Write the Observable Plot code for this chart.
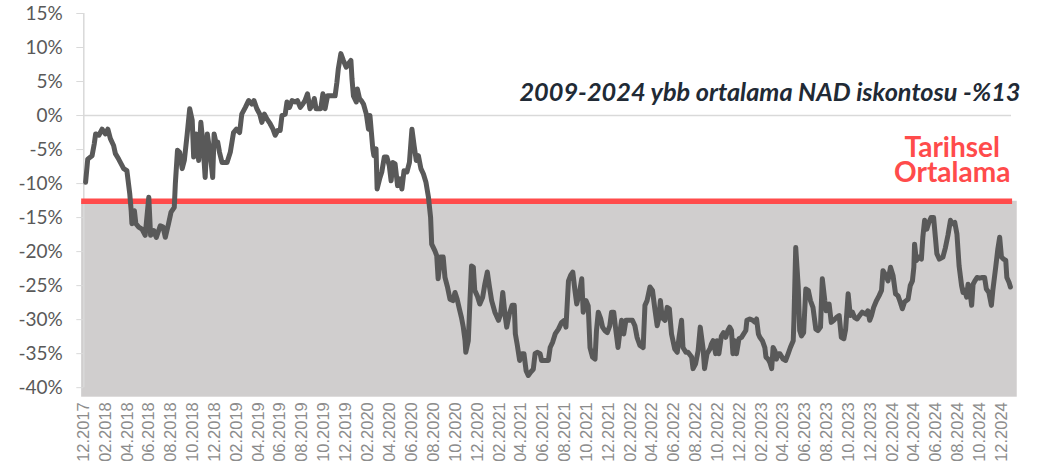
<!DOCTYPE html>
<html>
<head>
<meta charset="utf-8">
<script src="https://cdn.jsdelivr.net/npm/d3@7"></script>
<script src="https://cdn.jsdelivr.net/npm/@observablehq/plot@0.6"></script>
<style>
  html, body { margin: 0; padding: 0; background: #fff; }
  #chart svg { display: block; }
</style>
</head>
<body>
<div id="chart"></div>
<script>
// NAD iskontosu (%)
const series = [
["2017-12-06",-9.8],["2017-12-12",-6.4],["2017-12-24",-5.9],["2017-12-30",-4.2],["2018-01-03",-2.7],["2018-01-12",-2.9],
["2018-01-21",-2.0],["2018-01-30",-2.7],["2018-02-06",-2.0],["2018-02-13",-3.4],["2018-02-22",-4.4],["2018-02-27",-5.6],
["2018-03-08",-6.4],["2018-03-18",-7.4],["2018-03-22",-7.8],["2018-03-31",-8.1],["2018-04-08",-11.5],["2018-04-12",-14.0],
["2018-04-14",-15.9],["2018-04-21",-14.0],["2018-04-25",-15.9],["2018-05-03",-16.4],["2018-05-12",-16.7],["2018-05-21",-17.6],
["2018-05-31",-12.0],["2018-06-05",-17.6],["2018-06-14",-16.9],["2018-06-21",-17.9],["2018-07-02",-16.2],["2018-07-10",-16.4],
["2018-07-16",-17.9],["2018-07-25",-15.9],["2018-08-01",-14.2],["2018-08-10",-13.5],["2018-08-13",-10.0],["2018-08-19",-5.1],
["2018-08-25",-5.4],["2018-09-01",-7.8],["2018-09-07",-6.6],["2018-09-15",-2.7],["2018-09-22",1.0],["2018-09-29",-0.7],
["2018-10-03",-6.1],["2018-10-10",-2.7],["2018-10-17",-6.6],["2018-10-23",-1.0],["2018-10-29",-4.2],["2018-11-04",-9.1],
["2018-11-10",-2.7],["2018-11-18",-5.6],["2018-11-25",-9.1],["2018-11-29",-2.7],["2018-12-05",-4.2],["2018-12-09",-3.9],
["2018-12-14",-5.4],["2018-12-21",-6.9],["2019-01-04",-6.9],["2019-01-13",-5.4],["2019-01-22",-2.5],["2019-01-30",-2.0],
["2019-02-08",-2.5],["2019-02-14",0.2],["2019-02-24",1.2],["2019-03-05",2.2],["2019-03-14",1.7],["2019-03-20",2.2],
["2019-03-28",1.0],["2019-04-05",0.2],["2019-04-11",-1.0],["2019-04-18",0.2],["2019-04-25",-0.5],["2019-05-04",-1.2],
["2019-05-12",-2.0],["2019-05-18",-2.9],["2019-05-25",-2.2],["2019-06-01",-2.2],["2019-06-06",0.0],["2019-06-15",0.2],
["2019-06-20",2.0],["2019-06-27",1.2],["2019-07-04",2.2],["2019-07-13",2.0],["2019-07-19",2.2],["2019-07-27",1.2],
["2019-08-03",1.7],["2019-08-09",2.2],["2019-08-16",3.2],["2019-08-23",1.0],["2019-08-31",1.7],["2019-09-04",2.5],
["2019-09-09",1.0],["2019-09-16",1.0],["2019-09-22",1.0],["2019-09-28",3.2],["2019-10-04",1.0],["2019-10-11",2.9],
["2019-10-18",2.9],["2019-11-01",2.9],["2019-11-06",4.9],["2019-11-10",6.9],["2019-11-17",9.1],["2019-11-24",8.1],
["2019-12-02",7.1],["2019-12-08",7.6],["2019-12-15",8.1],["2019-12-18",5.4],["2019-12-22",2.9],["2019-12-30",2.0],
["2020-01-02",3.9],["2020-01-08",2.5],["2020-01-13",2.2],["2020-01-19",1.7],["2020-01-27",0.2],["2020-02-02",-2.0],
["2020-02-06",0.0],["2020-02-14",-4.9],["2020-02-17",-5.9],["2020-02-23",-4.9],["2020-02-26",-10.8],["2020-03-04",-9.3],
["2020-03-10",-8.3],["2020-03-17",-6.1],["2020-03-24",-6.1],["2020-03-31",-7.4],["2020-04-05",-9.6],["2020-04-10",-6.9],
["2020-04-16",-7.1],["2020-04-23",-10.3],["2020-04-30",-9.3],["2020-05-05",-10.8],["2020-05-11",-8.1],["2020-05-19",-8.3],
["2020-05-26",-6.9],["2020-06-02",-2.0],["2020-06-08",-4.4],["2020-06-14",-6.6],["2020-06-20",-5.9],["2020-06-27",-7.8],
["2020-07-04",-8.6],["2020-07-11",-9.8],["2020-07-18",-12.0],["2020-07-24",-15.0],["2020-07-27",-18.9],["2020-08-05",-19.9],
["2020-08-10",-20.6],["2020-08-14",-24.0],["2020-08-21",-20.8],["2020-08-28",-20.8],["2020-09-02",-23.8],["2020-09-09",-25.2],
["2020-09-16",-27.0],["2020-09-24",-27.2],["2020-09-30",-26.0],["2020-10-06",-27.0],["2020-10-12",-28.4],["2020-10-18",-29.7],
["2020-10-23",-31.1],["2020-10-28",-33.1],["2020-10-30",-34.8],["2020-11-06",-33.1],["2020-11-11",-26.7],["2020-11-15",-22.1],
["2020-11-20",-22.3],["2020-11-24",-25.7],["2020-12-01",-26.5],["2020-12-08",-27.7],["2020-12-16",-26.7],["2020-12-22",-24.8],
["2020-12-29",-23.0],["2021-01-04",-25.2],["2021-01-10",-27.2],["2021-01-19",-28.9],["2021-01-29",-30.1],["2021-02-04",-29.2],
["2021-02-10",-26.0],["2021-02-16",-29.2],["2021-02-21",-31.1],["2021-02-28",-29.2],["2021-03-08",-27.9],["2021-03-14",-27.9],
["2021-03-17",-32.1],["2021-03-22",-33.6],["2021-03-29",-36.0],["2021-04-04",-35.0],["2021-04-10",-35.0],["2021-04-16",-37.5],
["2021-04-22",-38.2],["2021-04-29",-37.7],["2021-05-06",-37.3],["2021-05-11",-35.0],["2021-05-17",-34.8],["2021-05-25",-35.0],
["2021-05-29",-36.0],["2021-06-08",-36.0],["2021-06-17",-36.0],["2021-06-22",-34.1],["2021-06-29",-33.3],["2021-07-06",-32.1],
["2021-07-15",-31.4],["2021-07-24",-30.4],["2021-07-31",-30.1],["2021-08-05",-31.1],["2021-08-12",-24.3],["2021-08-18",-23.5],
["2021-08-24",-23.0],["2021-08-30",-25.7],["2021-09-04",-27.7],["2021-09-11",-26.2],["2021-09-18",-24.0],["2021-09-22",-28.9],
["2021-09-30",-27.2],["2021-10-06",-28.0],["2021-10-11",-34.1],["2021-10-18",-35.5],["2021-10-25",-35.8],["2021-10-29",-31.6],
["2021-11-03",-28.9],["2021-11-10",-29.9],["2021-11-15",-31.1],["2021-11-21",-31.6],["2021-11-28",-31.9],["2021-12-05",-30.9],
["2021-12-10",-28.9],["2021-12-16",-28.9],["2021-12-22",-31.6],["2021-12-28",-34.1],["2022-01-02",-31.9],["2022-01-07",-30.1],
["2022-01-13",-32.1],["2022-01-19",-30.1],["2022-01-25",-30.1],["2022-02-06",-30.1],["2022-02-13",-30.9],["2022-02-19",-32.6],
["2022-02-27",-33.8],["2022-03-08",-34.1],["2022-03-13",-27.9],["2022-03-19",-27.2],["2022-03-27",-25.2],["2022-04-03",-25.7],
["2022-04-09",-28.2],["2022-04-16",-30.9],["2022-04-21",-29.7],["2022-04-25",-27.2],["2022-04-30",-29.7],["2022-05-08",-30.1],
["2022-05-14",-28.2],["2022-05-20",-28.4],["2022-05-26",-32.1],["2022-06-04",-34.3],["2022-06-11",-34.8],["2022-06-16",-32.6],
["2022-06-23",-30.1],["2022-06-27",-34.1],["2022-07-05",-34.8],["2022-07-11",-34.8],["2022-07-21",-35.5],["2022-07-25",-37.2],
["2022-08-01",-36.5],["2022-08-08",-34.6],["2022-08-14",-31.1],["2022-08-22",-34.3],["2022-08-26",-37.2],["2022-09-02",-35.0],
["2022-09-10",-34.3],["2022-09-14",-33.6],["2022-09-19",-33.1],["2022-09-26",-35.0],["2022-09-30",-33.1],["2022-10-05",-35.0],
["2022-10-12",-32.4],["2022-10-18",-31.9],["2022-10-24",-32.6],["2022-10-30",-31.6],["2022-11-04",-31.1],["2022-11-09",-31.6],
["2022-11-13",-35.0],["2022-11-18",-33.1],["2022-11-23",-35.0],["2022-11-30",-32.8],["2022-12-07",-32.6],["2022-12-13",-32.1],
["2022-12-19",-31.6],["2022-12-22",-30.1],["2022-12-30",-29.9],["2023-01-07",-30.1],["2023-01-14",-30.4],["2023-01-18",-29.9],
["2023-01-23",-32.1],["2023-01-27",-32.6],["2023-02-03",-33.1],["2023-02-10",-34.1],["2023-02-13",-35.5],["2023-02-19",-35.8],
["2023-02-24",-36.3],["2023-03-01",-37.2],["2023-03-05",-34.1],["2023-03-10",-34.6],["2023-03-14",-35.8],["2023-03-19",-35.0],
["2023-03-24",-35.0],["2023-04-02",-35.8],["2023-04-09",-36.0],["2023-04-16",-35.0],["2023-04-22",-34.1],["2023-04-30",-33.1],
["2023-05-02",-30.1],["2023-05-07",-19.4],["2023-05-14",-25.2],["2023-05-18",-31.6],["2023-05-23",-32.4],["2023-05-29",-31.9],
["2023-06-04",-25.5],["2023-06-11",-25.7],["2023-06-17",-27.2],["2023-06-24",-28.2],["2023-07-02",-31.4],["2023-07-08",-31.6],
["2023-07-15",-31.1],["2023-07-20",-24.0],["2023-07-27",-27.2],["2023-07-31",-28.7],["2023-08-08",-27.7],["2023-08-14",-30.4],
["2023-08-21",-30.1],["2023-08-28",-29.7],["2023-09-05",-29.4],["2023-09-11",-32.6],["2023-09-18",-32.8],["2023-09-23",-31.4],
["2023-09-30",-26.2],["2023-10-06",-29.4],["2023-10-12",-28.9],["2023-10-18",-29.7],["2023-10-25",-29.9],["2023-11-01",-29.4],
["2023-11-08",-28.9],["2023-11-18",-29.2],["2023-11-24",-28.7],["2023-11-29",-30.1],["2023-12-04",-29.4],["2023-12-10",-28.2],
["2023-12-18",-27.2],["2023-12-25",-26.5],["2024-01-01",-25.7],["2024-01-05",-22.8],["2024-01-13",-23.5],["2024-01-19",-24.3],
["2024-01-26",-22.3],["2024-02-02",-23.5],["2024-02-09",-26.2],["2024-02-16",-26.5],["2024-02-22",-27.4],["2024-02-28",-28.4],
["2024-03-05",-27.4],["2024-03-15",-27.0],["2024-03-21",-25.0],["2024-03-27",-24.3],["2024-03-31",-22.3],["2024-04-02",-18.9],
["2024-04-07",-21.3],["2024-04-14",-20.8],["2024-04-21",-21.1],["2024-04-25",-17.9],["2024-04-30",-15.4],["2024-05-06",-16.7],
["2024-05-12",-15.7],["2024-05-18",-15.0],["2024-05-25",-15.0],["2024-05-30",-17.9],["2024-06-03",-20.3],["2024-06-10",-21.1],
["2024-06-20",-20.8],["2024-06-27",-19.4],["2024-07-04",-17.6],["2024-07-11",-15.4],["2024-07-16",-15.9],["2024-07-23",-15.7],
["2024-07-29",-17.4],["2024-08-04",-22.1],["2024-08-11",-25.0],["2024-08-15",-26.0],["2024-08-20",-25.7],["2024-08-25",-26.7],
["2024-08-29",-24.8],["2024-09-03",-25.7],["2024-09-08",-27.9],["2024-09-12",-24.8],["2024-09-17",-24.3],["2024-09-23",-23.8],
["2024-09-30",-23.9],["2024-10-08",-23.8],["2024-10-14",-23.8],["2024-10-19",-25.5],["2024-10-26",-26.0],["2024-11-02",-27.9],
["2024-11-06",-25.7],["2024-11-14",-22.3],["2024-11-20",-19.6],["2024-11-25",-17.9],["2024-11-30",-20.8],["2024-12-06",-21.1],
["2024-12-12",-21.3],["2024-12-15",-23.8],["2024-12-21",-24.5],["2024-12-25",-25.2]
];

// Historical average (Tarihsel Ortalama), %
const historicalAverage = -12.6;

// Axis ticks
const yTicks = [15, 10, 5, 0, -5, -10, -15, -20, -25, -30, -35, -40];
const xTickLabels = [
  "12.2017","02.2018","04.2018","06.2018","08.2018","10.2018",
  "12.2018","02.2019","04.2019","06.2019","08.2019","10.2019",
  "12.2019","02.2020","04.2020","06.2020","08.2020","10.2020",
  "12.2020","02.2021","04.2021","06.2021","08.2021","10.2021",
  "12.2021","02.2022","04.2022","06.2022","08.2022","10.2022",
  "12.2022","02.2023","04.2023","06.2023","08.2023","10.2023",
  "12.2023","02.2024","04.2024","06.2024","08.2024","10.2024",
  "12.2024"
];

// Text
const noteText = "2009-2024 ybb ortalama NAD iskontosu -%13";
const avgLabelLines = ["Tarihsel", "Ortalama"];

// ---------------------------------------------------------------
const parseDay = d3.utcParse("%Y-%m-%d");
const parseTick = d3.utcParse("%m.%Y");
const data = series.map(([d, v]) => ({date: parseDay(d), value: v}));
const xTicks = xTickLabels.map(parseTick);

const xStart = xTicks[0];
const xEnd = d3.utcDay.offset(xTicks[xTicks.length - 1], 27);
const yMin = -41.4, yMax = 15;
const band = [{
  x1: d3.utcDay.offset(xStart, -6),
  x2: d3.utcDay.offset(xEnd, 16),
  y1: yMin,
  y2: historicalAverage
}];

const chart = Plot.plot({
  width: 1056,
  height: 469,
  marginLeft: 83.3,
  marginRight: 45,
  marginTop: 13,
  marginBottom: 72.3,
  style: {background: "#ffffff", fontFamily: "Lato, sans-serif"},
  x: {type: "utc", domain: [xStart, xEnd]},
  y: {domain: [yMin, yMax]},
  marks: [
    Plot.rect(band, {x1: "x1", x2: "x2", y1: "y1", y2: "y2", fill: "#d0cece"}),
    Plot.ruleY([0], {stroke: "#d9d9d9", strokeWidth: 1.5}),
    Plot.ruleX([xStart], {y1: -40, y2: 15, stroke: "#d9d9d9", strokeWidth: 1.5}),
    Plot.ruleY([historicalAverage], {x1: band[0].x1, x2: d3.utcDay.offset(xEnd, 3), stroke: "#ff4b4b", strokeWidth: 5.5}),
    Plot.lineY(data, {x: "date", y: "value", stroke: "#595959", strokeWidth: 5, strokeLinejoin: "round", strokeLinecap: "round"}),
    Plot.axisY({
      ticks: yTicks, tickSize: 7, tickPadding: 14,
      tickFormat: d => `${d}%`,
      stroke: "#d9d9d9", fill: "#595959",
      fontSize: 19, fontFamily: "Lato"
    }),
    Plot.axisX({
      ticks: xTicks, tickSize: 0, tickPadding: 5, tickRotate: -90,
      tickFormat: d3.utcFormat("%m.%Y"),
      fill: "#8c8c8c", fontSize: 16.5, fontFamily: "Liberation Sans"
    }),
    Plot.text([noteText], {
      text: d => d, frameAnchor: "top-right", dx: 9, dy: 79.6,
      textAnchor: "end", lineAnchor: "middle",
      fontSize: 25.3, fontWeight: "bold", fontStyle: "italic",
      fontFamily: "Lato", fill: "#212a35"
    }),
    Plot.text([avgLabelLines[0]], {
      text: d => d, frameAnchor: "top-right", dx: -59.3, dy: 143.7,
      textAnchor: "middle", lineAnchor: "bottom",
      fontSize: 28, fontWeight: "bold", fontFamily: "Lato", fill: "#ff4b4b"
    }),
    Plot.text([avgLabelLines[1]], {
      text: d => d, frameAnchor: "top-right", dx: -59.3, dy: 168.7,
      textAnchor: "middle", lineAnchor: "bottom",
      fontSize: 28, fontWeight: "bold", fontFamily: "Lato", fill: "#ff4b4b"
    })
  ]
});

document.getElementById("chart").append(chart);
</script>
</body>
</html>
